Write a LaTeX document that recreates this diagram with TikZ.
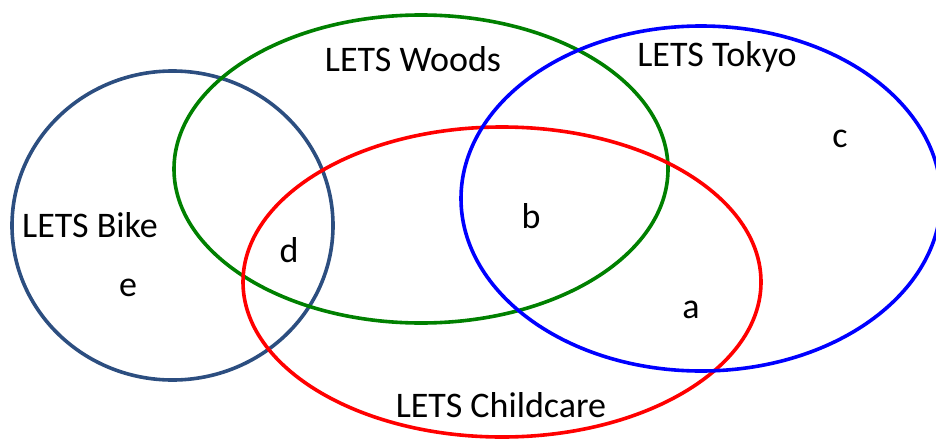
\documentclass[tikz,border=0pt]{standalone}
\usepackage{fontspec}
\setmainfont{Carlito}
\usetikzlibrary{shapes.geometric}
\definecolor{bikeblue}{RGB}{44,78,128}
\definecolor{woodgreen}{RGB}{0,128,0}
\definecolor{carered}{RGB}{255,0,0}
\definecolor{tokyoblue}{RGB}{0,0,255}
\begin{document}
\begin{tikzpicture}[x=1pt,y=-1pt,
  setring/.style={ellipse,draw,line width=3.6pt,inner sep=0pt,outer sep=0pt},
  lbl/.style={anchor=base,inner sep=0pt,font=\fontsize{36}{43}\selectfont}]
\useasboundingbox (0,0) rectangle (936,439);
\clip (0,0) rectangle (936,439);
\node[setring,draw=bikeblue,minimum width=321pt,minimum height=309pt] (bike) at (172.5,225.5) {};
\node[setring,draw=woodgreen,minimum width=494pt,minimum height=308pt] (woods) at (421,169) {};
\node[setring,draw=carered,minimum width=518pt,minimum height=310pt] (care) at (502,282) {};
\node[setring,draw=tokyoblue,minimum width=480pt,minimum height=345pt] (tokyo) at (701,198.5) {};
\node[lbl] (lwoods) at (413,71) {LETS Woods};
\node[lbl] (ltokyo) at (717,66) {LETS Tokyo};
\node[lbl] (lbike) at (90,237) {LETS Bike};
\node[lbl] (lcare) at (501,417) {LETS Childcare};
\node[lbl] (la) at (691,318) {a};
\node[lbl] (lb) at (531,228) {b};
\node[lbl] (lc) at (840,147) {c};
\node[lbl] (ld) at (289,262) {d};
\node[lbl] (le) at (128,296) {e};
\end{tikzpicture}
\end{document}
